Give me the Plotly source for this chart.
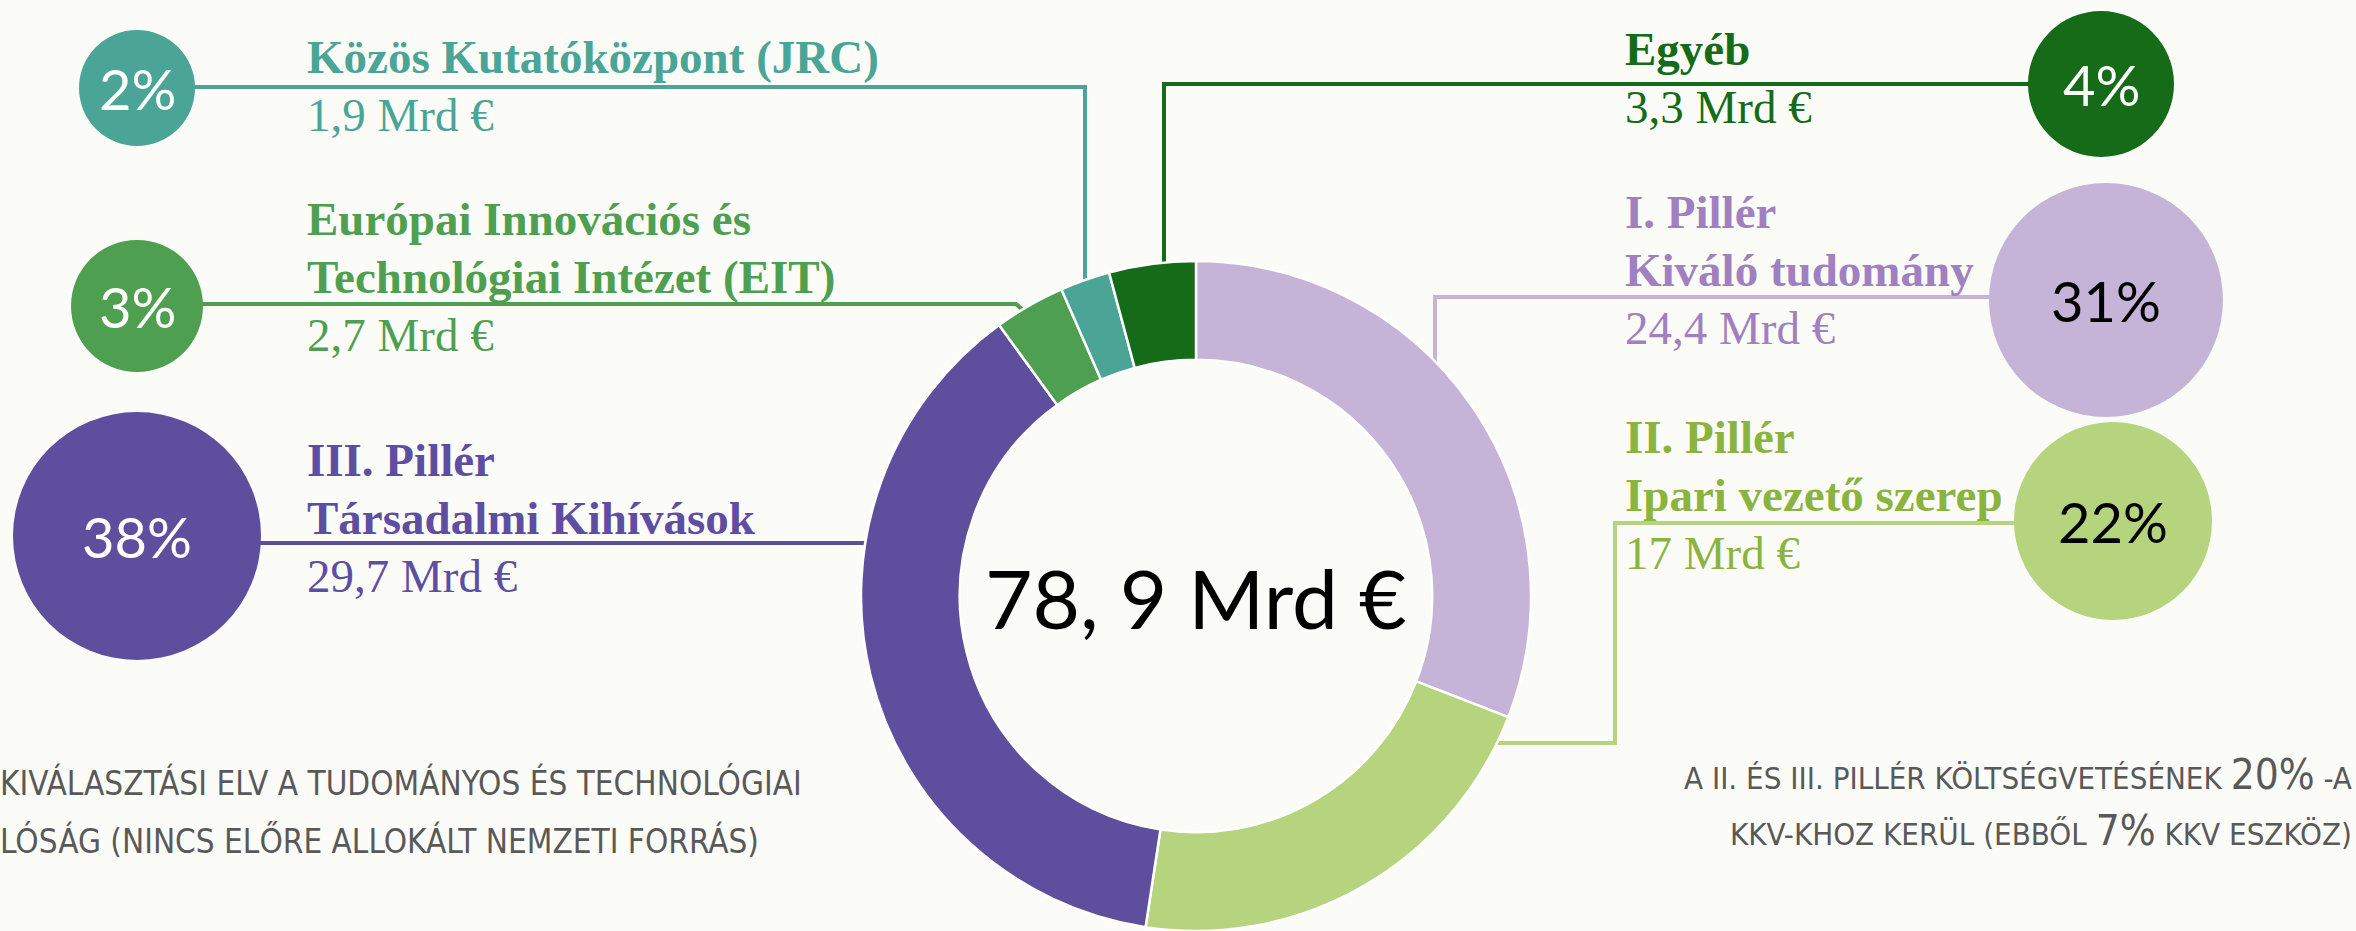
import re
import plotly.graph_objects as go

# ---------------- data ----------------
categories = [
    "I. Pillér – Kiváló tudomány",
    "II. Pillér – Ipari vezető szerep",
    "III. Pillér – Társadalmi Kihívások",
    "Európai Innovációs és Technológiai Intézet (EIT)",
    "Közös Kutatóközpont (JRC)",
    "Egyéb",
]
values_mrd = [24.4, 17, 29.7, 2.7, 1.9, 3.3]
percent_labels = ["31%", "22%", "38%", "3%", "2%", "4%"]
title_lines = [
    ["I. Pillér", "Kiváló tudomány"],
    ["II. Pillér", "Ipari vezető szerep"],
    ["III. Pillér", "Társadalmi Kihívások"],
    ["Európai Innovációs és", "Technológiai Intézet (EIT)"],
    ["Közös Kutatóközpont (JRC)"],
    ["Egyéb"],
]
total_label = "78, 9 Mrd €"
note_left = [
    "KIVÁLASZTÁSI ELV A TUDOMÁNYOS ÉS TECHNOLÓGIAI",
    "LÓSÁG (NINCS ELŐRE ALLOKÁLT NEMZETI FORRÁS)",
]
note_right = [
    "A II. ÉS III. PILLÉR KÖLTSÉGVETÉSÉNEK 20% -A",
    "KKV-KHOZ KERÜL (EBBŐL 7% KKV ESZKÖZ)",
]

# ---------------- styles ----------------
slice_colors = ["#C5B3D8", "#B5D47D", "#5E4E9E", "#4EA050", "#4BA596", "#156B18"]
text_colors = ["#A080C0", "#8AB43E", "#5E4EA2", "#4EA050", "#4BA596", "#156B18"]
pct_text_colors = ["#000000", "#000000", "#FFFFFF", "#FFFFFF", "#FFFFFF", "#FFFFFF"]
BG = "#FBFCF7"
NOTE_COLOR = "#595959"
SERIF = "Liberation Serif, Times New Roman, serif"
SANS = "Lato, Open Sans, sans-serif"
NARROW = "Liberation Sans Narrow, Arial Narrow, DejaVu Sans Condensed, sans-serif"

W, H = 2356, 931

# layout positions in pixels (from top-left), one entry per category
placement = [
    dict(bubble=(2106, 300, 117), path=[(2106, 297), (1435, 297), (1435, 390)], tx=1625, base=228),
    dict(bubble=(2113, 521, 99), path=[(2113, 523), (1615, 523), (1615, 743), (1480, 743)], tx=1625, base=453),
    dict(bubble=(137, 536, 124), path=[(137, 543), (880, 543)], tx=307, base=476),
    dict(bubble=(137, 306, 66), path=[(137, 304), (1016, 304), (1032, 318)], tx=307, base=235),
    dict(bubble=(137, 88, 58), path=[(137, 87), (1085, 87), (1085, 292)], tx=307, base=73),
    dict(bubble=(2101, 84, 73), path=[(2101, 84), (1164, 84), (1164, 278)], tx=1625, base=65),
]
LINE_STEP = 58
TSIZE = 47
ASC_SERIF = 0.891


def X(px):
    return px / W


def Y(py):
    return 1 - py / H


def value_text(v):
    return f"{v:g}".replace(".", ",") + " Mrd €"


fig = go.Figure()

# donut: centre ~ (1196, 596) px, radius ~335 px
fig.add_trace(go.Pie(
    labels=categories,
    values=values_mrd,
    sort=False,
    direction="clockwise",
    rotation=0,
    hole=0.705,
    marker=dict(colors=slice_colors, line=dict(color="white", width=2.5)),
    textinfo="none",
    hoverinfo="label+value",
    showlegend=False,
    domain=dict(x=[X(861), X(1531)], y=[0, 670 / H]),
))

shapes = []
annotations = []
for i, p in enumerate(placement):
    # connector
    pts = p["path"]
    d = "M " + " L ".join(f"{X(a):.5f},{Y(b):.5f}" for a, b in pts)
    shapes.append(dict(type="path", xref="paper", yref="paper", path=d,
                       line=dict(color=slice_colors[i], width=4), layer="below"))
    # bubble
    cx, cy, r = p["bubble"]
    shapes.append(dict(type="circle", xref="paper", yref="paper",
                       x0=X(cx - r), x1=X(cx + r), y0=Y(cy + r), y1=Y(cy - r),
                       fillcolor=slice_colors[i], line=dict(width=0), layer="above"))
    annotations.append(dict(x=X(cx), y=Y(cy), xref="paper", yref="paper",
                            text=percent_labels[i], showarrow=False,
                            xanchor="center", yanchor="middle",
                            font=dict(family=SANS, size=56, color=pct_text_colors[i]),
                            borderpad=0, borderwidth=0))
    # texts
    lines = [f"<b>{t}</b>" for t in title_lines[i]] + [value_text(values_mrd[i])]
    for k, t in enumerate(lines):
        baseline = p["base"] + k * LINE_STEP
        top = baseline - ASC_SERIF * TSIZE
        annotations.append(dict(x=X(p["tx"]), y=Y(top), xref="paper", yref="paper",
                                text=t, showarrow=False, xanchor="left", yanchor="top",
                                font=dict(family=SERIF, size=TSIZE, color=text_colors[i]),
                                borderpad=0, borderwidth=0))

# centre total
annotations.append(dict(x=X(1196), y=Y(597), xref="paper", yref="paper",
                        text=total_label, showarrow=False, xanchor="center", yanchor="middle",
                        font=dict(family=SANS, size=82, color="#000000"),
                        borderpad=0, borderwidth=0))

# notes
NSIZE = 33
ASC_N = 0.905
for k, t in enumerate(note_left):
    baseline = 793 + k * 58
    annotations.append(dict(x=0, y=Y(baseline - ASC_N * NSIZE), xref="paper", yref="paper",
                            text=t, showarrow=False, xanchor="left", yanchor="top",
                            font=dict(family=NARROW, size=NSIZE, color=NOTE_COLOR),
                            borderpad=0, borderwidth=0))
RSIZE = 31
for k, t in enumerate(note_right):
    baseline = 792 + k * 56
    t2 = re.sub(r"(\d+%)", r'<span style="font-size:42px">\1</span>', t)
    annotations.append(dict(x=X(2352), y=Y(baseline + 0.212 * RSIZE), xref="paper", yref="paper",
                            text=t2, showarrow=False, xanchor="right", yanchor="bottom",
                            font=dict(family=NARROW, size=RSIZE, color=NOTE_COLOR),
                            borderpad=0, borderwidth=0))

fig.update_layout(
    width=W, height=H,
    margin=dict(l=0, r=0, t=0, b=0),
    paper_bgcolor=BG, plot_bgcolor=BG,
    shapes=shapes, annotations=annotations,
)

fig.write_html("out.html", include_plotlyjs=True, config={"displayModeBar": False},
               post_script="document.body.style.margin='0';document.body.style.overflow='hidden';")
